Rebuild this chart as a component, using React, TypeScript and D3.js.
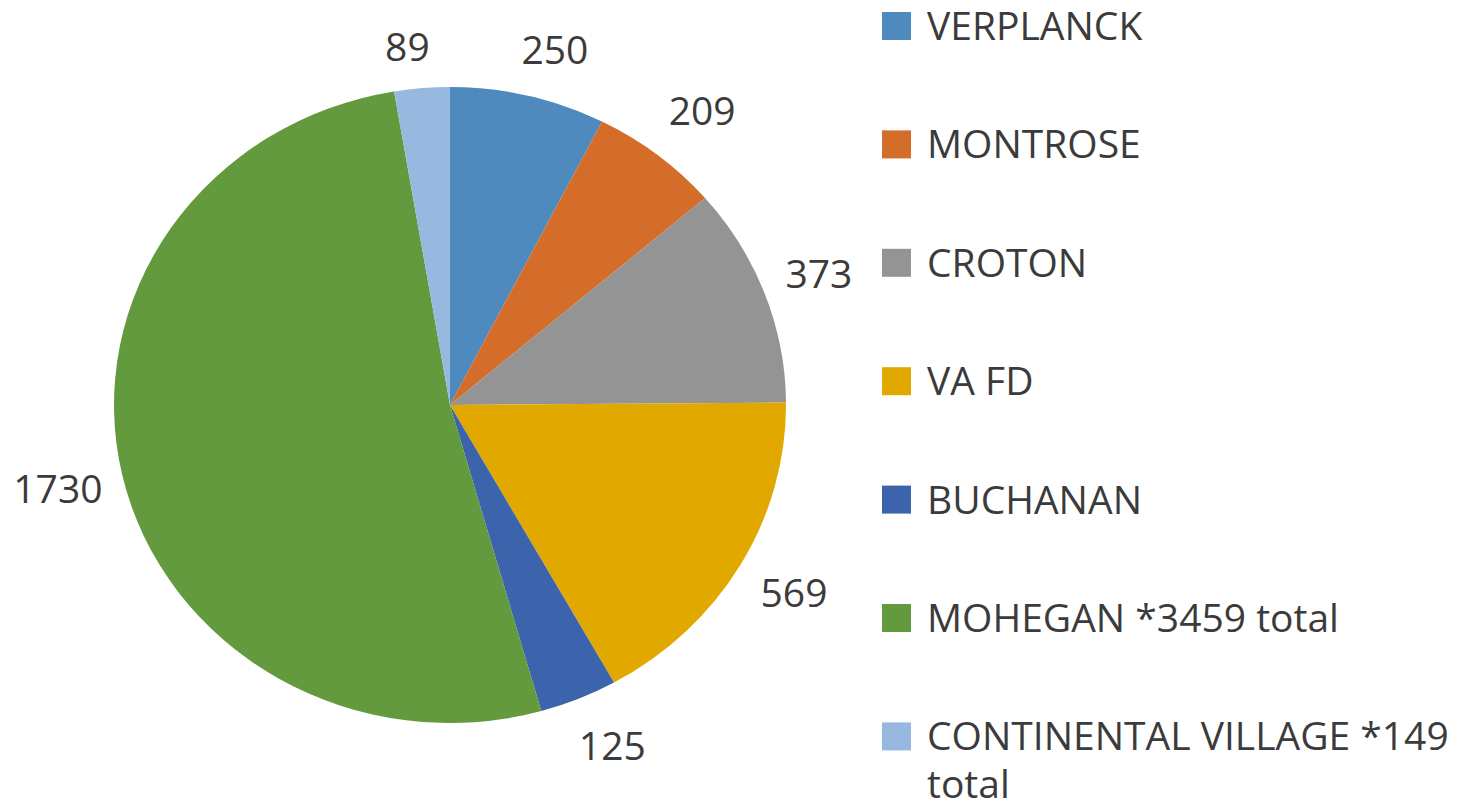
import React, { useEffect, useRef } from 'react';
import * as d3 from 'd3';

// slice names, in clockwise order starting at 12 o'clock
const categories = [
  'VERPLANCK',
  'MONTROSE',
  'CROTON',
  'VA FD',
  'BUCHANAN',
  'MOHEGAN *3459 total',
  'CONTINENTAL VILLAGE *149 total',
];
const values = [250, 209, 373, 569, 125, 1730, 89];
const colors = ['#4f8abe', '#d46c2a', '#949494', '#e1a900', '#3b64ad', '#629a3d', '#98b9df'];

const App = () => {
  const ref = useRef<SVGSVGElement>(null);

  useEffect(() => {
    const width = 1459;
    const height = 808;
    const cx = 450;
    const cy = 405;
    const rx = 336;
    const ry = 318;
    const font = '"Open Sans", sans-serif';
    const textColor = '#3b3b3b';

    const svg = d3.select(ref.current);
    svg.selectAll('*').remove();
    svg.attr('viewBox', [0, 0, width, height]).attr('width', width).attr('height', height);

    const data = categories.map((name, i) => ({ name, value: values[i], color: colors[i] }));
    const arcs = d3
      .pie<any>()
      .sort(null)
      .value((d) => d.value)(data);

    const arc = d3.arc<any>().innerRadius(0).outerRadius(rx);

    // pie is slightly squashed vertically in the reference
    svg
      .append('g')
      .attr('transform', `translate(${cx},${cy}) scale(1,${ry / rx})`)
      .selectAll('path')
      .data(arcs)
      .join('path')
      .attr('d', arc)
      .attr('fill', (d) => d.data.color);

    // data labels, outside end
    const labels = svg
      .append('g')
      .attr('font-family', font)
      .attr('font-size', 39)
      .attr('fill', textColor);

    const gap = 16;
    const halfH = 24;
    arcs.forEach((a) => {
      const mid = (a.startAngle + a.endAngle) / 2;
      const s = Math.sin(mid);
      const c = Math.cos(mid);
      const t = labels
        .append('text')
        .attr('text-anchor', 'middle')
        .text(String(a.data.value));
      const w = (t.node() as SVGTextElement).getComputedTextLength();
      const support = (w / 2) * Math.abs(s) + halfH * Math.abs(c);
      // labels near top/bottom get pushed sideways a bit, like Excel does
      const push = Math.sign(s) * (w / 4) * c * c;
      const x = cx + rx * s + (gap + support) * s + push;
      const y = cy - ry * c - (gap + support) * c;
      t.attr('x', x).attr('y', y).attr('dy', '0.36em');
    });

    // legend
    const legend = svg
      .append('g')
      .attr('font-family', font)
      .attr('font-size', 39)
      .attr('fill', textColor);
    const rowH = 118.4;
    const maxW = width - 927 - 6;
    data.forEach((d, i) => {
      const top = 12 + i * rowH;
      legend
        .append('rect')
        .attr('x', 882)
        .attr('y', top)
        .attr('width', 29)
        .attr('height', 28)
        .attr('fill', d.color);
      const t = legend.append('text').attr('x', 927).attr('y', top + 28);
      // wrap words onto extra lines if too wide
      const words = d.name.split(' ');
      let line: string[] = [];
      let tspan = t.append('tspan').attr('x', 927);
      words.forEach((word) => {
        line.push(word);
        tspan.text(line.join(' '));
        if ((tspan.node() as SVGTSpanElement).getComputedTextLength() > maxW && line.length > 1) {
          line.pop();
          tspan.text(line.join(' '));
          line = [word];
          tspan = t.append('tspan').attr('x', 927).attr('dy', 48).text(word);
        }
      });
    });
  }, []);

  return (
    <div>
      <svg ref={ref} style={{ position: 'absolute', left: 0, top: 0, display: 'block' }}></svg>
    </div>
  );
};

export default App;
